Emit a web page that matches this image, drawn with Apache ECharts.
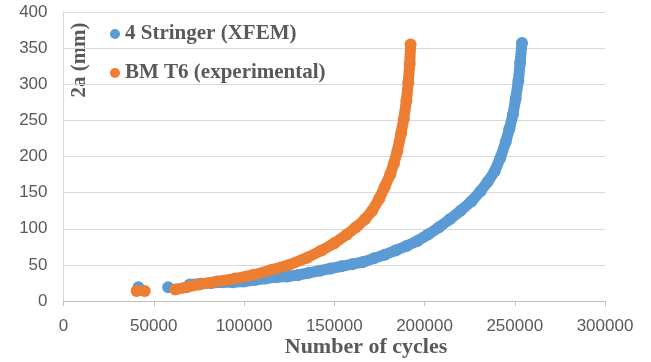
<!DOCTYPE html>
<html>
<head>
<meta charset="utf-8">
<script src="https://cdn.jsdelivr.net/npm/echarts@6/dist/echarts.min.js"></script>
<style>
  html, body { margin: 0; padding: 0; background: #fff; }
  #main { width: 651px; height: 362px; }
</style>
</head>
<body>
<div id="main"></div>
<script>
  // isolated early readings
  var blueStart = [[41500, 19], [58000, 19]];
  var orangeStart = [[40500, 14], [45000, 14]];

  // 4 Stringer (XFEM)
  var blueMain = [
    [70000, 23], [76000, 24], [82000, 25], [88000, 26], [94000, 26], [100000, 27],
    [106000, 29], [112000, 31], [118000, 33], [124000, 34], [130000, 36], [136000, 39],
    [142000, 42], [148000, 45], [154000, 48], [160000, 51], [166000, 54], [172000, 59],
    [178000, 64], [184000, 70], [190000, 76], [196000, 83], [202000, 92], [208000, 102],
    [214000, 113], [220000, 125], [226000, 138], [231000, 152], [235000, 165], [239000, 180],
    [242000, 198], [245000, 220], [247000, 238], [249000, 258], [250500, 280], [252000, 305],
    [253000, 330], [254000, 357]
  ];

  // BM T6 (experimental)
  var orangeMain = [
    [62000, 16], [68000, 19], [75000, 23], [85000, 27], [95000, 31], [105000, 36],
    [115000, 43], [125000, 50], [135000, 60], [143000, 70], [150000, 80], [157000, 92],
    [162000, 102], [167000, 113], [171000, 125], [175000, 142], [178000, 158], [181000, 175],
    [183000, 190], [185000, 208], [187000, 232], [188500, 252], [190000, 278], [191000, 302],
    [191800, 328], [192300, 355]
  ];

  var names = ['4 Stringer (XFEM)', 'BM T6 (experimental)'];
  var colors = ['#5B9BD5', '#ED7D31'];

  var chart = echarts.init(document.getElementById('main'));
  chart.setOption({
    animation: false,
    grid: { left: 63.5, right: 46, top: 12, bottom: 61 },
    legend: {
      orient: 'vertical',
      left: 105,
      top: 18,
      itemWidth: 10,
      itemHeight: 10,
      itemGap: 17,
      data: [{ name: names[0], icon: 'circle' }, { name: names[1], icon: 'circle' }],
      textStyle: {
        fontFamily: 'Liberation Serif',
        fontWeight: 'bold',
        fontSize: 21,
        lineHeight: 22,
        color: '#595959'
      }
    },
    xAxis: {
      type: 'value',
      min: 0,
      max: 300000,
      interval: 50000,
      axisLine: { show: true, lineStyle: { color: '#bfbfbf' } },
      axisTick: { show: true, length: 5, lineStyle: { color: '#bfbfbf' } },
      axisLabel: {
        margin: 17, fontFamily: 'Liberation Sans', fontSize: 17, color: '#595959',
        formatter: function (v) { return String(v); }
      },
      splitLine: { show: false }
    },
    yAxis: {
      type: 'value',
      min: 0,
      max: 400,
      interval: 50,
      axisLine: { show: true, lineStyle: { color: '#d9d9d9' } },
      axisTick: { show: false },
      axisLabel: { margin: 16, fontFamily: 'Liberation Sans', fontSize: 17, color: '#595959' },
      splitLine: { lineStyle: { color: '#d9d9d9' } }
    },
    graphic: [
      {
        type: 'text',
        x: 80, y: 60,
        rotation: Math.PI / 2,
        style: {
          text: '2a (mm)',
          font: 'bold 21px "Liberation Serif"',
          fill: '#595959',
          align: 'center',
          verticalAlign: 'middle'
        }
      },
      {
        type: 'text',
        x: 366, y: 347,
        style: {
          text: 'Number of cycles',
          font: 'bold 22px "Liberation Serif"',
          fill: '#595959',
          align: 'center',
          verticalAlign: 'middle'
        }
      }
    ],
    series: [
      {
        name: names[0], type: 'scatter', symbolSize: 12,
        itemStyle: { color: colors[0], opacity: 1 },
        data: blueStart.concat(blueMain)
      },
      {
        name: names[0], type: 'line', symbol: 'none',
        lineStyle: { color: colors[0], width: 11, opacity: 1, cap: 'round', join: 'round' },
        itemStyle: { color: colors[0] },
        data: blueMain
      },
      {
        name: names[1], type: 'scatter', symbolSize: 12,
        itemStyle: { color: colors[1], opacity: 1 },
        data: orangeStart.concat(orangeMain)
      },
      {
        name: names[1], type: 'line', symbol: 'none',
        lineStyle: { color: colors[1], width: 11, opacity: 1, cap: 'round', join: 'round' },
        itemStyle: { color: colors[1] },
        data: orangeMain
      }
    ]
  });
</script>
</body>
</html>
